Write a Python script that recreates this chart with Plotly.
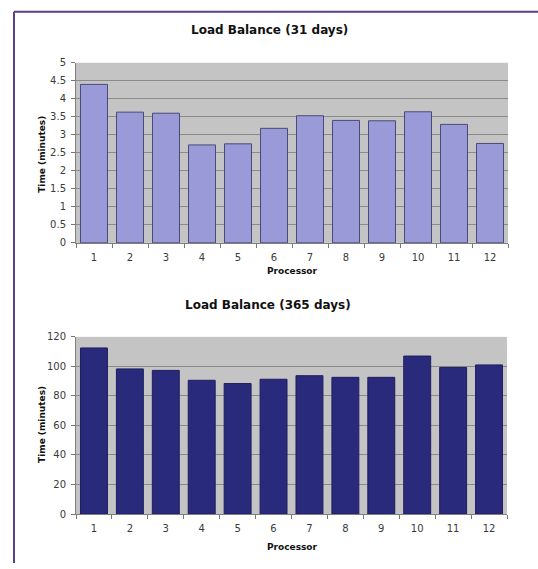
import plotly.graph_objects as go

# ---- data ----
processors = ["1", "2", "3", "4", "5", "6", "7", "8", "9", "10", "11", "12"]
time_31_days = [4.4, 3.63, 3.6, 2.72, 2.75, 3.18, 3.53, 3.4, 3.39, 3.64, 3.29, 2.76]
time_365_days = [112.5, 98.3, 97.3, 90.6, 88.4, 91.3, 93.7, 92.6, 92.6, 107.0, 99.3, 101.0]
y_ticks_31 = [0, 0.5, 1, 1.5, 2, 2.5, 3, 3.5, 4, 4.5, 5]
y_ticks_365 = [0, 20, 40, 60, 80, 100, 120]
title_31 = "Load Balance (31 days)"
title_365 = "Load Balance (365 days)"
x_title = "Processor"
y_title = "Time (minutes)"

W, H = 538, 569

def px_x(p):
    return p / W

def px_y(p):
    return 1 - p / H

tick_font = dict(family="DejaVu Sans", size=10, color="#3a3a3a")
title_font = dict(family="DejaVu Sans", size=12, color="#111111")
axtitle_font = dict(family="DejaVu Sans", size=9, color="#111111")

fig = go.Figure()
fig.add_trace(go.Bar(x=processors, y=time_31_days, xaxis="x", yaxis="y",
                     marker=dict(color="#9a9ad8", line=dict(color="#4a4a78", width=1)),
                     showlegend=False))
fig.add_trace(go.Bar(x=processors, y=time_365_days, xaxis="x2", yaxis="y2",
                     marker=dict(color="#2a2a7c", line=dict(color="#1e1e60", width=1)),
                     showlegend=False))

common_x = dict(type="category", tickson="boundaries", ticks="outside", ticklen=4,
                tickcolor="#777777", showline=True, linecolor="#808080", linewidth=1,
                showgrid=False, tickfont=tick_font, fixedrange=True, ticklabelstandoff=5)
common_y = dict(ticks="outside", ticklen=4, tickcolor="#777777", showline=True,
                linecolor="#808080", linewidth=1, showgrid=True, gridcolor="#8a8a8a",
                gridwidth=1, zeroline=False, tickfont=tick_font, fixedrange=True,
                ticklabelstandoff=3)

fig.update_layout(
    width=W, height=H,
    margin=dict(l=0, r=0, t=0, b=0),
    paper_bgcolor="white",
    plot_bgcolor="#c4c4c4",
    bargap=0.25,
    xaxis=dict(domain=[px_x(76), px_x(508)], anchor="y", **common_x),
    yaxis=dict(domain=[px_y(242), px_y(58)], anchor="x", range=[0, 5],
               tickvals=y_ticks_31, ticktext=[f"{v:g}" for v in y_ticks_31], **common_y),
    xaxis2=dict(domain=[px_x(76), px_x(507)], anchor="y2", **common_x),
    yaxis2=dict(domain=[px_y(519), px_y(338)], anchor="x2", range=[0, 120],
                tickvals=y_ticks_365, ticktext=[str(v) for v in y_ticks_365], **common_y),
)

annotations = [
    dict(text=f"<b>{title_31}</b>", x=px_x(269), y=px_y(25), font=title_font),
    dict(text=f"<b>{title_365}</b>", x=px_x(268), y=px_y(305), font=title_font),
    dict(text=f"<b>{x_title}</b>", x=px_x(292), y=px_y(271), font=axtitle_font),
    dict(text=f"<b>{x_title}</b>", x=px_x(292), y=px_y(553), font=axtitle_font),
    dict(text=f"<b>{y_title}</b>", x=px_x(42), y=px_y(152), font=axtitle_font, textangle=-90),
    dict(text=f"<b>{y_title}</b>", x=px_x(42), y=px_y(428), font=axtitle_font, textangle=-90),
]
for a in annotations:
    a.update(xref="paper", yref="paper", showarrow=False, xanchor="center", yanchor="middle")
fig.update_layout(annotations=annotations)

# page border (top and left) in the reference's purple
fig.add_shape(type="line", xref="paper", yref="paper", x0=px_x(14), x1=1, y0=px_y(6), y1=px_y(6),
              line=dict(color="#5b3d8e", width=2))
fig.add_shape(type="line", xref="paper", yref="paper", x0=px_x(14), x1=px_x(14), y0=px_y(6), y1=0,
              line=dict(color="#5b3d8e", width=2))

fig.write_html("out.html")
